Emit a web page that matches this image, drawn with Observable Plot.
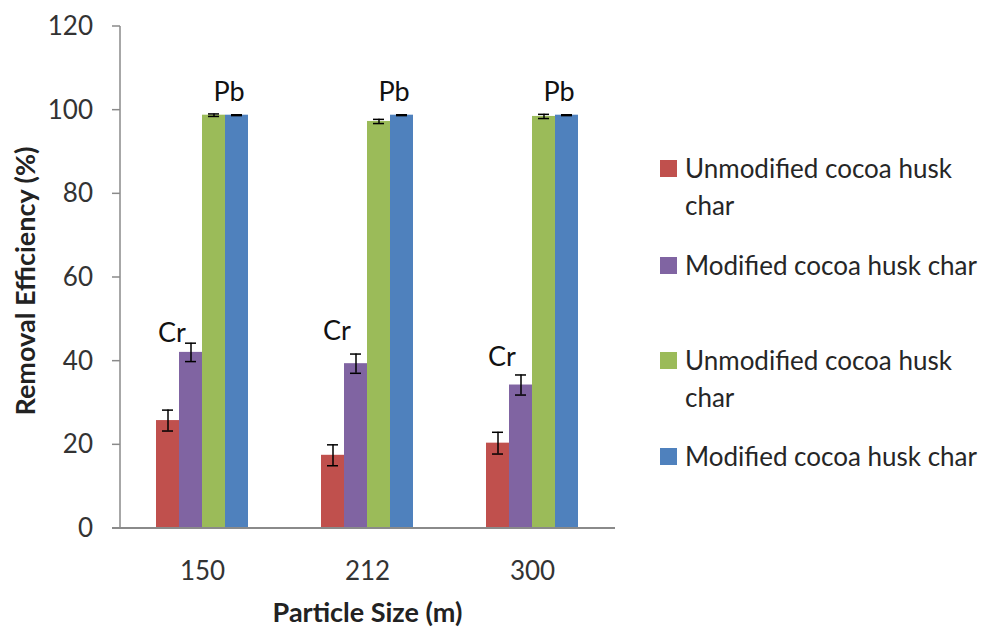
<!DOCTYPE html>
<html>
<head>
<meta charset="utf-8">
<script src="https://cdn.jsdelivr.net/npm/d3@7"></script>
<script src="https://cdn.jsdelivr.net/npm/@observablehq/plot@0.6"></script>
<style>
  body { margin: 0; background: #fff; }
  #chart { position: relative; width: 988px; height: 632px; font-family: Lato, "Open Sans", sans-serif; }
  #legend { position: absolute; left: 660px; top: 0; color: #262626; font-size: 26px; }
  .item { position: absolute; left: 0; display: flex; align-items: flex-start; line-height: 37px; }
  .swatch { width: 17px; height: 17px; margin-top: 10px; margin-right: 8px; flex: none; }
  .txt { width: 305px; }
</style>
</head>
<body>
<div id="chart"><div id="legend"></div></div>
<script>
// ---- data ----
const particleSizes = ["150", "212", "300"];
const seriesKeys = ["Cr-unmodified", "Cr-modified", "Pb-unmodified", "Pb-modified"];
const seriesLabels = ["Unmodified cocoa husk char", "Modified cocoa husk char", "Unmodified cocoa husk char", "Modified cocoa husk char"];
const crUnmodified = [25.8, 17.5, 20.4];
const crUnmodifiedErr = [2.5, 2.5, 2.6];
const crModified = [42.1, 39.4, 34.3];
const crModifiedErr = [2.2, 2.3, 2.4];
const pbUnmodified = [98.8, 97.3, 98.5];
const pbUnmodifiedErr = [0.3, 0.5, 0.5];
const pbModified = [98.8, 98.8, 98.8];
const pbModifiedErr = [0.1, 0.1, 0.1];
const crLabelY = [46.6, 47.1, 40.9];
const pbLabelY = [104.3, 104.3, 104.3];
const yTicks = [0, 20, 40, 60, 80, 100, 120];
const colors = ["#C0504D", "#8064A2", "#9BBB59", "#4F81BD"];
const xTitle = "Particle Size (m)";
const yTitle = "Removal Efficiency (%)";

// ---- build tables ----
const values = [crUnmodified, crModified, pbUnmodified, pbModified];
const errors = [crUnmodifiedErr, crModifiedErr, pbUnmodifiedErr, pbModifiedErr];
const rows = particleSizes.flatMap((size, i) =>
  seriesKeys.map((key, j) => ({size, key, value: values[j][i], lo: values[j][i] - errors[j][i], hi: values[j][i] + errors[j][i]})));
const crLabels = particleSizes.map((size, i) => ({size, key: seriesKeys[0], y: crLabelY[i], text: "Cr"}));
const pbLabels = particleSizes.map((size, i) => ({size, key: seriesKeys[2], y: pbLabelY[i], text: "Pb"}));

const W = 988, H = 632, ML = 120, MR = 373, MT = 26, MB = 104;
const font = "Lato, 'Open Sans', sans-serif";

const plot = Plot.plot({
  width: W, height: H,
  marginLeft: ML, marginRight: MR, marginTop: MT, marginBottom: MB,
  style: {fontFamily: font, background: "white", overflow: "visible"},
  fx: {domain: particleSizes, paddingInner: 0.43, paddingOuter: 0.215, label: null},
  x: {domain: seriesKeys, padding: 0, axis: null},
  y: {domain: [0, 120], label: null, axis: null},
  color: {domain: seriesKeys, range: colors},
  marks: [
    Plot.axisFx({anchor: "bottom", tickSize: 0, tickPadding: 33, fontSize: 26, color: "#333", label: null}),
    Plot.barY(rows, {fx: "size", x: "key", y: "value", fill: "key"}),
    Plot.ruleX(rows, {fx: "size", x: "key", y1: "lo", y2: "hi", stroke: "black", strokeWidth: 1.5}),
    Plot.tickY(rows, {fx: "size", x: "key", y: "lo", stroke: "black", strokeWidth: 1.5, insetLeft: 6, insetRight: 6}),
    Plot.tickY(rows, {fx: "size", x: "key", y: "hi", stroke: "black", strokeWidth: 1.5, insetLeft: 6, insetRight: 6}),
    Plot.text(crLabels, {fx: "size", x: "key", y: "y", text: "text", dx: 4, fontSize: 27, fill: "#111", lineAnchor: "middle"}),
    Plot.text(pbLabels, {fx: "size", x: "key", y: "y", text: "text", dx: 15, fontSize: 27, fill: "#111", lineAnchor: "middle"})
  ]
});

// y axis (ticks, labels, line) and x axis line, positioned with the plot's own y scale
const yScale = plot.scale("y");
const svg = d3.select(plot);
const y0 = yScale.apply(0), yTop = yScale.apply(120);
const axisColor = "#8a8a8a";
const gy = svg.append("g");
gy.selectAll("line.tick").data(yTicks).join("line")
  .attr("x1", ML - 8).attr("x2", ML).attr("y1", d => yScale.apply(d)).attr("y2", d => yScale.apply(d))
  .attr("stroke", axisColor).attr("stroke-width", 1.5);
gy.selectAll("text").data(yTicks).join("text")
  .attr("x", ML - 27).attr("y", d => yScale.apply(d)).attr("dy", "0.35em")
  .attr("text-anchor", "end").attr("font-size", 26).attr("fill", "#333").attr("font-family", font)
  .text(d => d);
svg.append("line").attr("x1", ML).attr("x2", ML).attr("y1", yTop).attr("y2", y0)
  .attr("stroke", axisColor).attr("stroke-width", 1.5);
svg.append("line").attr("x1", ML - 8).attr("x2", W - MR).attr("y1", y0).attr("y2", y0)
  .attr("stroke", axisColor).attr("stroke-width", 2);
svg.append("text").text(xTitle)
  .attr("x", (ML + W - MR) / 2).attr("y", 613).attr("dy", "0.35em")
  .attr("text-anchor", "middle").attr("font-weight", "bold").attr("font-size", 27)
  .attr("fill", "#222").attr("font-family", font);
svg.append("text").text(yTitle)
  .attr("transform", `translate(26,${(yTop + y0) / 2 + 4}) rotate(-90)`).attr("dy", "0.35em")
  .attr("text-anchor", "middle").attr("font-weight", "bold").attr("font-size", 27)
  .attr("fill", "#222").attr("font-family", font);

document.getElementById("chart").prepend(plot);
plot.style.position = "absolute"; plot.style.left = "0"; plot.style.top = "0";

// legend
const legendTops = [168, 265, 360, 456];
const legend = d3.select("#legend");
seriesKeys.forEach((k, i) => {
  const item = legend.append("div").attr("class", "item").style("top", (legendTops[i] - 18.5) + "px");
  item.append("div").attr("class", "swatch").style("background", colors[i]);
  item.append("div").attr("class", "txt").text(seriesLabels[i]);
});
</script>
</body>
</html>
